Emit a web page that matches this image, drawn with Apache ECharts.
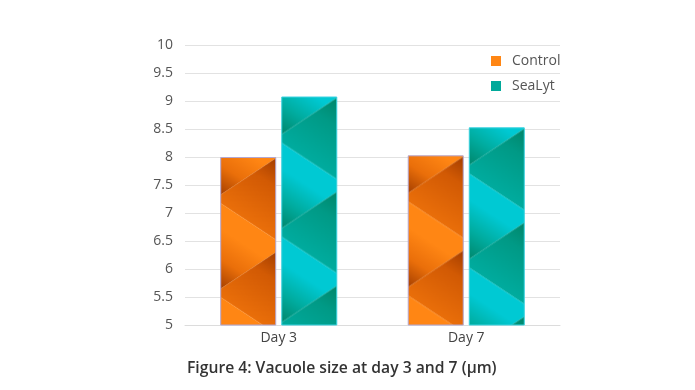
<!DOCTYPE html>
<html>
<head>
<meta charset="utf-8">
<script src="https://cdn.jsdelivr.net/npm/echarts@6/dist/echarts.min.js"></script>
<style>
html,body{margin:0;padding:0;background:#fff;}
#main{width:695px;height:390px;}
</style>
</head>
<body>
<div id="main"></div>
<script>
const categories = ['Day 3', 'Day 7'];
const controlValues = [8.0, 8.03];
const sealytValues = [9.08, 8.53];
const seriesNames = ['Control', 'SeaLyt'];
const titleText = 'Figure 4: Vacuole size at day 3 and 7 (µm)';

const FONT = '"Open Sans", "Noto Sans", sans-serif';

function makeTile(dark, midDark, mid, bright, w) {
  const P = 94;
  const c = document.createElement('canvas');
  c.width = w; c.height = P;
  const ctx = c.getContext('2d');
  const dl = 37;
  const nx = -0.551, ny = 0.834;
  for (let k = -2; k <= 2; k++) {
    const o = P * k;
    const px = 0, py = 46 + o;
    const g1 = ctx.createLinearGradient(px - 68 * nx, py - 68 * ny, px, py);
    g1.addColorStop(0, dark);
    g1.addColorStop(0.35, midDark);
    g1.addColorStop(1, mid);
    ctx.fillStyle = g1;
    ctx.beginPath();
    ctx.moveTo(0, 38 + o);
    ctx.lineTo(w, 38 - dl + o);
    ctx.lineTo(w, 46 + dl + o);
    ctx.lineTo(0, 46 + o);
    ctx.closePath();
    ctx.fill();
    const g2 = ctx.createLinearGradient(px, py, px + 72 * nx, py + 72 * ny);
    g2.addColorStop(0, bright);
    g2.addColorStop(0.3, bright);
    g2.addColorStop(0.65, mid);
    g2.addColorStop(1, dark);
    ctx.fillStyle = g2;
    ctx.beginPath();
    ctx.moveTo(0, 46 + o);
    ctx.lineTo(w, 46 + dl + o);
    ctx.lineTo(w, 38 - dl + P + o);
    ctx.lineTo(0, 38 + P + o);
    ctx.closePath();
    ctx.fill();
  }
  return c;
}

const BAR_W = 56;
const orangeTile = makeTile('#a43e00', '#d25a04', '#ea6f0a', '#ff8614', BAR_W);
const tealTile = makeTile('#00866a', '#009a86', '#00ac9f', '#00c9d3', BAR_W);

const chart = echarts.init(document.getElementById('main'), null, {renderer: 'canvas'});

function buildOption(patterns) {
  return {
    animation: false,
    backgroundColor: '#ffffff',
    title: {
      text: titleText,
      left: 182,
      top: 356,
      textStyle: {fontFamily: FONT, fontSize: 15.7, fontWeight: 600, color: '#333333'}
    },
    legend: {
      orient: 'vertical',
      left: 486,
      top: 49,
      itemWidth: 10,
      itemHeight: 10,
      itemGap: 11,
      icon: 'rect',
      data: [
        {name: seriesNames[0], itemStyle: {color: '#ff8614', borderWidth: 0}},
        {name: seriesNames[1], itemStyle: {color: '#00a99a', borderWidth: 0}}
      ],
      textStyle: {fontFamily: FONT, fontSize: 14, color: '#555555', padding: [0, 0, 0, 6]}
    },
    grid: {left: 185, right: 135, top: 45, bottom: 65},
    xAxis: {
      type: 'category',
      data: categories,
      axisTick: {show: false},
      axisLine: {lineStyle: {color: '#dcdcdc'}},
      axisLabel: {fontFamily: FONT, fontSize: 14, color: '#444444', margin: 6}
    },
    yAxis: {
      type: 'value',
      min: 5,
      max: 10,
      interval: 0.5,
      axisLine: {show: false},
      axisTick: {show: false},
      splitLine: {lineStyle: {color: '#e2e2e2'}},
      axisLabel: {fontFamily: FONT, fontSize: 14, color: '#555555', margin: 12}
    },
    series: [
      {
        name: seriesNames[0],
        type: 'bar',
        barWidth: BAR_W,
        barGap: '9%',
        itemStyle: {color: '#ff8614', borderColor: '#b3a6d0', borderWidth: 1},
        data: controlValues.map((v, i) => patterns ? {value: v, itemStyle: {color: patterns[0][i]}} : v)
      },
      {
        name: seriesNames[1],
        type: 'bar',
        barWidth: BAR_W,
        barGap: '9%',
        itemStyle: {color: '#00a99a', borderColor: '#3ad2e0', borderWidth: 1},
        data: sealytValues.map((v, i) => patterns ? {value: v, itemStyle: {color: patterns[1][i]}} : v)
      }
    ]
  };
}

chart.setOption(buildOption(null));

const tiles = [orangeTile, tealTile];
const patterns = [0, 1].map(si => {
  const data = chart.getModel().getSeriesByIndex(si).getData();
  const out = [];
  for (let i = 0; i < data.count(); i++) {
    const l = data.getItemLayout(i);
    const left = Math.min(l.x, l.x + l.width);
    const top = Math.min(l.y, l.y + l.height);
    out.push({image: tiles[si], repeat: 'repeat', x: left, y: top});
  }
  return out;
});
chart.setOption(buildOption(patterns));
</script>
</body>
</html>
